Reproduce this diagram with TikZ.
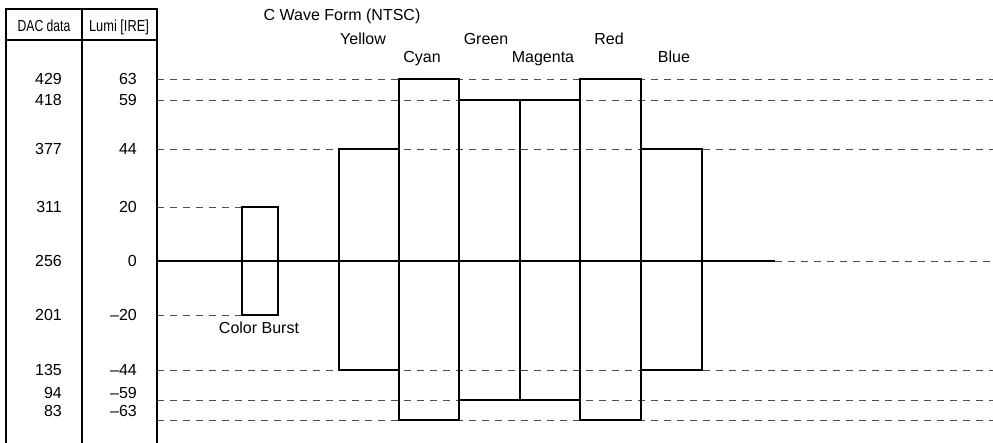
\documentclass[tikz,border=0pt]{standalone}
\usepackage{fontspec}
\setmainfont{Liberation Sans}

\begin{document}
\begin{tikzpicture}[x=1pt, y=-1pt]
\def\framewidth{1.1pt}
\def\barwidth{1.3pt}
\def\levelcolor{black!70}
\def\labelfont{\fontsize{16}{19}\selectfont}
\def\dacx{62}
\def\irex{137}
\tikzset{
  level/.style={dash pattern=on 7pt off 6pt, draw=\levelcolor, line width=0.8pt},
  barbox/.style={draw=black, line width=\barwidth},
  txt/.style={inner sep=0pt, font=\labelfont},
}
\useasboundingbox (0,0) rectangle (993,443);

\begin{scope} % TABLE
\draw[line width=\framewidth] (6,443) -- (6,9) -- (157,9) -- (157,443);
\draw[line width=\framewidth] (82,9) -- (82,443);
\draw[line width=\framewidth] (6,40) -- (157,40);

\node[txt, anchor=base] (dachead) at (44,32) {\scalebox{0.76}[1]{DAC data}};
\node[txt, anchor=base] (lumihead) at (119,32) {\scalebox{0.8}[1]{Lumi [IRE]}};

\node[txt, anchor=east] (dac429) at (\dacx,79) {429};
\node[txt, anchor=east] (dac418) at (\dacx,100) {418};
\node[txt, anchor=east] (dac377) at (\dacx,149) {377};
\node[txt, anchor=east] (dac311) at (\dacx,207) {311};
\node[txt, anchor=east] (dac256) at (\dacx,261) {256};
\node[txt, anchor=east] (dac201) at (\dacx,315) {201};
\node[txt, anchor=east] (dac135) at (\dacx,370) {135};
\node[txt, anchor=east] (dac94) at (\dacx,393) {94};
\node[txt, anchor=east] (dac83) at (\dacx,411) {83};

\node[txt, anchor=east] (ire63) at (\irex,79) {63};
\node[txt, anchor=east] (ire59) at (\irex,100) {59};
\node[txt, anchor=east] (ire44) at (\irex,149) {44};
\node[txt, anchor=east] (ire20) at (\irex,207) {20};
\node[txt, anchor=east] (ire0) at (\irex,261) {0};
\node[txt, anchor=east] (iren20) at (\irex,315) {–20};
\node[txt, anchor=east] (iren44) at (\irex,370) {–44};
\node[txt, anchor=east] (iren59) at (\irex,393) {–59};
\node[txt, anchor=east] (iren63) at (\irex,411) {–63};
\end{scope}

\begin{scope} % LEVELS
\draw[level] (157,79) -- (993,79);
\draw[level] (157,100) -- (993,100);
\draw[level] (157,149) -- (993,149);
\draw[level] (157,207) -- (242,207);
\draw[level] (157,315) -- (242,315);
\draw[level] (157,370) -- (993,370);
\draw[level] (157,400) -- (993,400);
\draw[level] (157,420) -- (993,420);

\draw[line width=\barwidth] (157,261) -- (775,261);
\draw[level] (775,261) -- (993,261);
\end{scope}

\begin{scope} % WAVE FORM
\node[txt, anchor=base] (title) at (342,21) {C Wave Form (NTSC)};

\draw[barbox] (242,207) rectangle (278,315);
\node[txt, anchor=base] (burst) at (259,334) {Color Burst};

\draw[barbox] (339,149) rectangle (399,370);
\draw[barbox] (399,79) rectangle (459,420);
\draw[barbox] (459,100) rectangle (520,400);
\draw[barbox] (520,100) rectangle (580,400);
\draw[barbox] (580,79) rectangle (641,420);
\draw[barbox] (641,149) rectangle (702,370);

\node[txt, anchor=base] (yellow) at (363,45) {Yellow};
\node[txt, anchor=base] (cyan) at (422,63) {Cyan};
\node[txt, anchor=base] (green) at (486,45) {Green};
\node[txt, anchor=base] (magenta) at (543,63) {Magenta};
\node[txt, anchor=base] (red) at (609,45) {Red};
\node[txt, anchor=base] (blue) at (674,63) {Blue};
\end{scope}
\end{tikzpicture}
\end{document}
